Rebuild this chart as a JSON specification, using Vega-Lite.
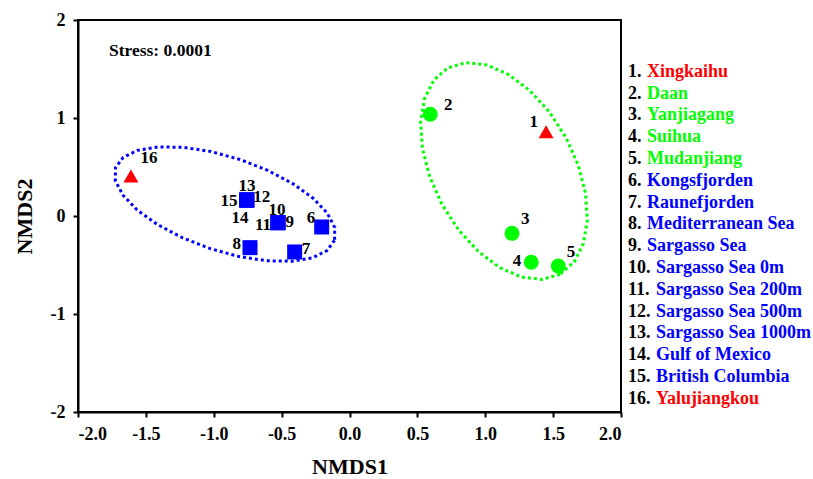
{
  "$schema": "https://vega.github.io/schema/vega-lite/v6.json",
  "background": "white",
  "padding": {"left": 12, "top": 10, "right": 0, "bottom": 0},
  "config": {
    "font": "Liberation Serif",
    "locale": {"number": {"decimal": ".", "thousands": ",", "grouping": [3], "currency": ["$", ""], "minus": "-"}},
    "view": {"stroke": "black", "strokeWidth": 2},
    "axis": {
      "labelFont": "Liberation Serif", "labelFontWeight": "bold", "labelColor": "black", "labelFontSize": 18,
      "titleFont": "Liberation Serif", "titleFontWeight": "bold", "titleColor": "black", "titleFontSize": 22,
      "grid": false, "domainColor": "black", "domainWidth": 2, "tickColor": "black", "tickWidth": 2, "tickSize": 5
    }
  },
  "datasets": {
    "sites": [
      {"id": 1, "name": "Xingkaihu", "group": "red", "x": 1.448, "y": 0.860, "lx": 1.357, "ly": 0.959},
      {"id": 2, "name": "Daan", "group": "green", "x": 0.595, "y": 1.038, "lx": 0.728, "ly": 1.130},
      {"id": 3, "name": "Yanjiagang", "group": "green", "x": 1.197, "y": -0.177, "lx": 1.295, "ly": -0.028},
      {"id": 4, "name": "Suihua", "group": "green", "x": 1.339, "y": -0.472, "lx": 1.234, "ly": -0.459},
      {"id": 5, "name": "Mudanjiang", "group": "green", "x": 1.538, "y": -0.510, "lx": 1.632, "ly": -0.367},
      {"id": 6, "name": "Kongsfjorden", "group": "blue", "x": -0.205, "y": -0.112, "lx": -0.284, "ly": -0.020},
      {"id": 7, "name": "Raunefjorden", "group": "blue", "x": -0.404, "y": -0.367, "lx": -0.320, "ly": -0.337},
      {"id": 8, "name": "Mediterranean Sea", "group": "blue", "x": -0.733, "y": -0.323, "lx": -0.831, "ly": -0.286},
      {"id": 9, "name": "Sargasso Sea", "group": "blue", "x": -0.527, "y": -0.068, "lx": -0.441, "ly": -0.058},
      {"id": 10, "name": "Sargasso Sea 0m", "group": "blue", "x": -0.527, "y": -0.068, "lx": -0.534, "ly": 0.061},
      {"id": 11, "name": "Sargasso Sea 200m", "group": "blue", "x": -0.527, "y": -0.068, "lx": -0.637, "ly": -0.092},
      {"id": 12, "name": "Sargasso Sea 500m", "group": "blue", "x": -0.757, "y": 0.163, "lx": -0.647, "ly": 0.197},
      {"id": 13, "name": "Sargasso Sea 1000m", "group": "blue", "x": -0.757, "y": 0.163, "lx": -0.755, "ly": 0.306},
      {"id": 14, "name": "Gulf of Mexico", "group": "blue", "x": -0.757, "y": 0.163, "lx": -0.807, "ly": -0.017},
      {"id": 15, "name": "British Columbia", "group": "blue", "x": -0.757, "y": 0.163, "lx": -0.888, "ly": 0.153},
      {"id": 16, "name": "Yalujiangkou", "group": "red", "x": -1.610, "y": 0.408, "lx": -1.477, "ly": 0.592}
    ],
    "ellipses": [
      {"group": "blue", "t": 0, "x": -0.110, "y": -0.248},
      {"group": "blue", "t": 1, "x": -0.166, "y": -0.353},
      {"group": "blue", "t": 2, "x": -0.272, "y": -0.426},
      {"group": "blue", "t": 3, "x": -0.423, "y": -0.461},
      {"group": "blue", "t": 4, "x": -0.608, "y": -0.457},
      {"group": "blue", "t": 5, "x": -0.813, "y": -0.414},
      {"group": "blue", "t": 6, "x": -1.026, "y": -0.333},
      {"group": "blue", "t": 7, "x": -1.231, "y": -0.222},
      {"group": "blue", "t": 8, "x": -1.415, "y": -0.087},
      {"group": "blue", "t": 9, "x": -1.565, "y": 0.062},
      {"group": "blue", "t": 10, "x": -1.670, "y": 0.215},
      {"group": "blue", "t": 11, "x": -1.725, "y": 0.361},
      {"group": "blue", "t": 12, "x": -1.724, "y": 0.492},
      {"group": "blue", "t": 13, "x": -1.668, "y": 0.597},
      {"group": "blue", "t": 14, "x": -1.562, "y": 0.670},
      {"group": "blue", "t": 15, "x": -1.411, "y": 0.705},
      {"group": "blue", "t": 16, "x": -1.226, "y": 0.701},
      {"group": "blue", "t": 17, "x": -1.021, "y": 0.658},
      {"group": "blue", "t": 18, "x": -0.808, "y": 0.577},
      {"group": "blue", "t": 19, "x": -0.603, "y": 0.466},
      {"group": "blue", "t": 20, "x": -0.419, "y": 0.331},
      {"group": "blue", "t": 21, "x": -0.269, "y": 0.182},
      {"group": "blue", "t": 22, "x": -0.164, "y": 0.030},
      {"group": "blue", "t": 23, "x": -0.109, "y": -0.117},
      {"group": "blue", "t": 24, "x": -0.110, "y": -0.248},
      {"group": "green", "t": 0, "x": 1.551, "y": -0.594},
      {"group": "green", "t": 1, "x": 1.419, "y": -0.647},
      {"group": "green", "t": 2, "x": 1.268, "y": -0.624},
      {"group": "green", "t": 3, "x": 1.108, "y": -0.528},
      {"group": "green", "t": 4, "x": 0.950, "y": -0.364},
      {"group": "green", "t": 5, "x": 0.805, "y": -0.145},
      {"group": "green", "t": 6, "x": 0.682, "y": 0.116},
      {"group": "green", "t": 7, "x": 0.591, "y": 0.400},
      {"group": "green", "t": 8, "x": 0.537, "y": 0.689},
      {"group": "green", "t": 9, "x": 0.524, "y": 0.961},
      {"group": "green", "t": 10, "x": 0.553, "y": 1.199},
      {"group": "green", "t": 11, "x": 0.621, "y": 1.387},
      {"group": "green", "t": 12, "x": 0.725, "y": 1.512},
      {"group": "green", "t": 13, "x": 0.857, "y": 1.565},
      {"group": "green", "t": 14, "x": 1.009, "y": 1.542},
      {"group": "green", "t": 15, "x": 1.169, "y": 1.446},
      {"group": "green", "t": 16, "x": 1.326, "y": 1.282},
      {"group": "green", "t": 17, "x": 1.472, "y": 1.063},
      {"group": "green", "t": 18, "x": 1.594, "y": 0.802},
      {"group": "green", "t": 19, "x": 1.685, "y": 0.518},
      {"group": "green", "t": 20, "x": 1.739, "y": 0.230},
      {"group": "green", "t": 21, "x": 1.752, "y": -0.043},
      {"group": "green", "t": 22, "x": 1.723, "y": -0.281},
      {"group": "green", "t": 23, "x": 1.655, "y": -0.469},
      {"group": "green", "t": 24, "x": 1.551, "y": -0.594}
    ]
  },
  "bounds": "flush",
  "spacing": 7,
  "hconcat": [
    {
      "width": 543,
      "height": 392,
      "encoding": {
        "x": {"type": "quantitative", "scale": {"domain": [-2, 2], "nice": false, "zero": false},
              "axis": {"title": "NMDS1", "values": [-2, -1.5, -1, -0.5, 0, 0.5, 1, 1.5, 2], "format": ".1f", "labelPadding": 8, "titlePadding": 13}},
        "y": {"type": "quantitative", "scale": {"domain": [-2, 2], "nice": false, "zero": false},
              "axis": {"title": "NMDS2", "values": [-2, -1, 0, 1, 2], "format": "d", "labelPadding": 8, "titlePadding": 14}}
      },
      "layer": [
        {
          "data": {"name": "ellipses"},
          "mark": {"type": "line", "strokeWidth": 3, "strokeDash": [3, 3], "strokeCap": "butt"},
          "encoding": {
            "x": {"field": "x", "type": "quantitative"},
            "y": {"field": "y", "type": "quantitative"},
            "order": {"field": "t", "type": "quantitative"},
            "color": {"field": "group", "type": "nominal", "scale": {"domain": ["red", "green", "blue"], "range": ["#FF0000", "#00FF00", "#0000FF"]}, "legend": null}
          }
        },
        {
          "data": {"name": "sites"},
          "mark": {"type": "point", "filled": true, "opacity": 1, "size": 225, "strokeWidth": 0},
          "encoding": {
            "x": {"field": "x", "type": "quantitative"},
            "y": {"field": "y", "type": "quantitative"},
            "color": {"field": "group", "type": "nominal", "legend": null},
            "shape": {"field": "group", "type": "nominal", "scale": {"domain": ["red", "green", "blue"], "range": ["triangle-up", "circle", "square"]}, "legend": null}
          }
        },
        {
          "data": {"name": "sites"},
          "mark": {"type": "text", "font": "Liberation Serif", "fontWeight": "bold", "fontSize": 17, "color": "black", "align": "center", "baseline": "middle"},
          "encoding": {
            "x": {"field": "lx", "type": "quantitative"},
            "y": {"field": "ly", "type": "quantitative"},
            "text": {"field": "id", "type": "nominal"}
          }
        },
        {
          "data": {"values": [{"label": "Stress: 0.0001"}]},
          "mark": {"type": "text", "font": "Liberation Serif", "fontWeight": "bold", "fontSize": 17.5, "color": "black", "align": "left", "baseline": "middle"},
          "encoding": {
            "x": {"datum": -1.772},
            "y": {"datum": 1.684},
            "text": {"field": "label", "type": "nominal"}
          }
        }
      ]
    },
    {
      "width": 180,
      "height": 392,
      "view": {"stroke": null},
      "data": {"name": "sites"},
      "transform": [{"calculate": "datum.id + '.'", "as": "num"}],
      "encoding": {
        "x": {"datum": 0, "type": "quantitative", "scale": {"domain": [0, 1], "nice": false, "zero": false}, "axis": null},
        "y": {"field": "id", "type": "quantitative", "scale": {"domain": [-1.372, 16.61], "reverse": true, "nice": false, "zero": false}, "axis": null}
      },
      "layer": [
        {
          "mark": {"type": "text", "font": "Liberation Serif", "fontWeight": "bold", "fontSize": 18, "color": "black", "align": "left", "baseline": "middle"},
          "encoding": {"text": {"field": "num", "type": "nominal"}}
        },
        {
          "transform": [{"filter": "datum.id < 10"}],
          "mark": {"type": "text", "font": "Liberation Serif", "fontWeight": "bold", "fontSize": 18, "align": "left", "baseline": "middle", "dx": 19},
          "encoding": {
            "text": {"field": "name", "type": "nominal"},
            "color": {"field": "group", "type": "nominal", "scale": {"domain": ["red", "green", "blue"], "range": ["#FF0000", "#00FF00", "#0000FF"]}, "legend": null}
          }
        },
        {
          "transform": [{"filter": "datum.id >= 10"}],
          "mark": {"type": "text", "font": "Liberation Serif", "fontWeight": "bold", "fontSize": 18, "align": "left", "baseline": "middle", "dx": 28},
          "encoding": {
            "text": {"field": "name", "type": "nominal"},
            "color": {"field": "group", "type": "nominal", "scale": {"domain": ["red", "green", "blue"], "range": ["#FF0000", "#00FF00", "#0000FF"]}, "legend": null}
          }
        }
      ]
    }
  ]
}
